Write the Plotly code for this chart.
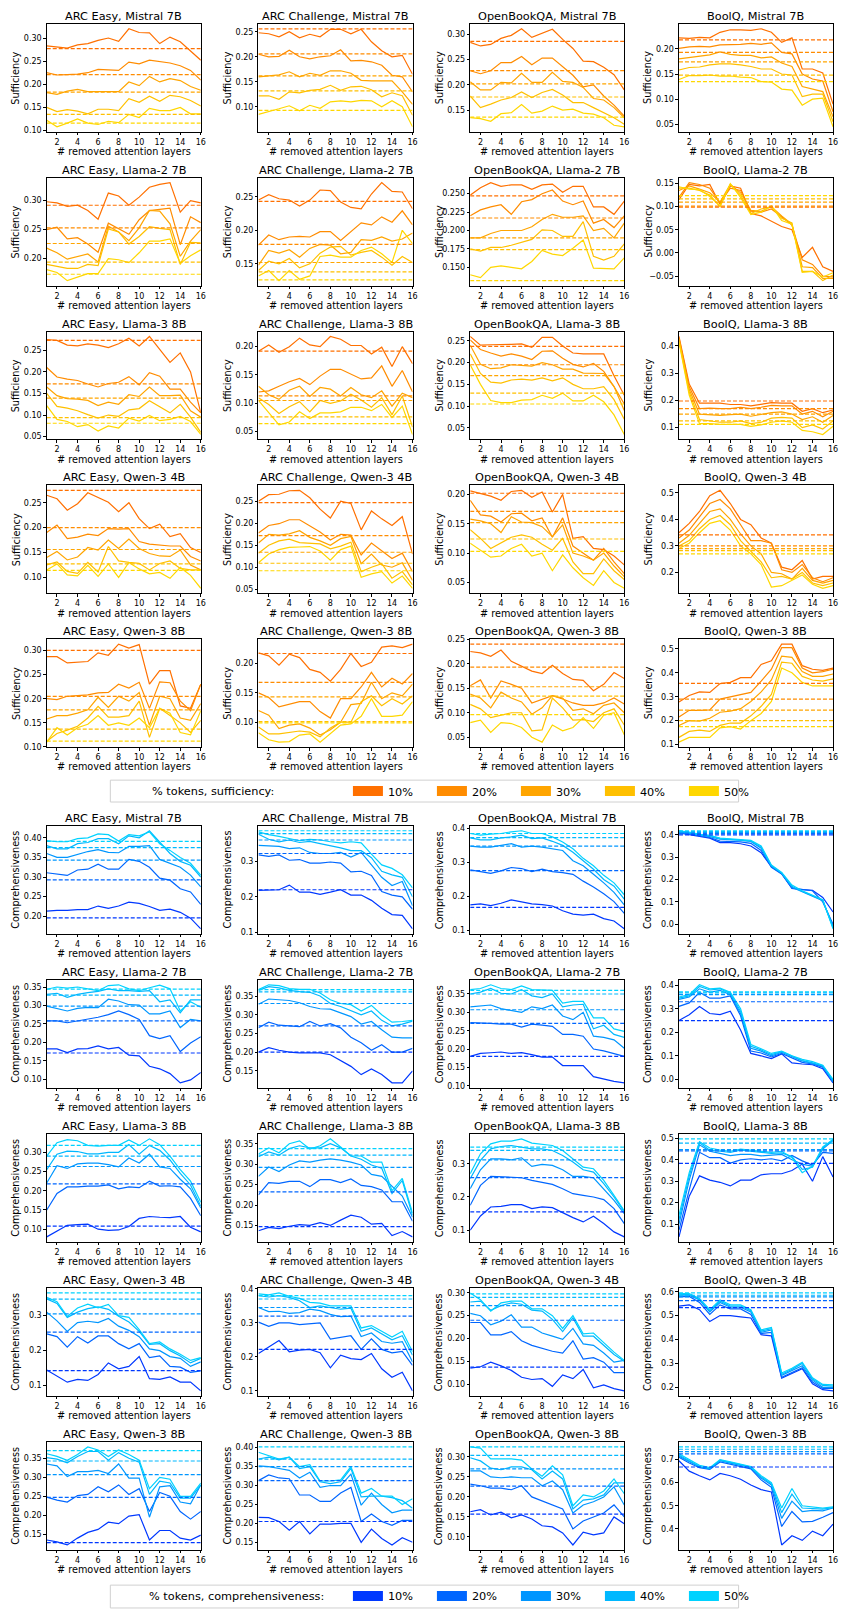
import plotly.graph_objects as go

LAYERS = list(range(1, 17))
PCT_LABELS = ["10%", "20%", "30%", "40%", "50%"]
DATASETS = ["ARC Easy", "ARC Challenge", "OpenBookQA", "BoolQ"]
MODELS = ["Mistral 7B", "Llama-2 7B", "Llama-3 8B", "Qwen-3 4B", "Qwen-3 8B"]
SUFF_COLORS = ["#FF7000", "#FF8C00", "#FFA500", "#FFC000", "#FFD700"]
COMP_COLORS = ["#0038FF", "#0066FF", "#0096FF", "#00B8FF", "#00D2FF"]

# ---------------- Sufficiency (series order: 10%, 20%, 30%, 40%, 50%) ----------------
suff_arce_mistral = [
    [0.283, 0.280, 0.278, 0.285, 0.288, 0.295, 0.300, 0.293, 0.320, 0.312, 0.311, 0.288, 0.302, 0.292, 0.273, 0.252],
    [0.225, 0.220, 0.221, 0.222, 0.225, 0.232, 0.231, 0.230, 0.248, 0.244, 0.252, 0.249, 0.246, 0.240, 0.230, 0.209],
    [0.182, 0.178, 0.185, 0.189, 0.184, 0.184, 0.185, 0.184, 0.205, 0.197, 0.217, 0.205, 0.212, 0.208, 0.195, 0.187],
    [0.150, 0.141, 0.145, 0.142, 0.136, 0.146, 0.146, 0.143, 0.169, 0.161, 0.174, 0.163, 0.176, 0.173, 0.165, 0.153],
    [0.122, 0.108, 0.116, 0.125, 0.116, 0.113, 0.120, 0.117, 0.135, 0.128, 0.148, 0.143, 0.143, 0.150, 0.136, 0.136]]
suff_arce_mistral_base = [0.277, 0.221, 0.183, 0.135, 0.116]

suff_arcc_mistral = [
    [0.248, 0.246, 0.240, 0.250, 0.238, 0.245, 0.240, 0.255, 0.255, 0.246, 0.255, 0.230, 0.212, 0.200, 0.203, 0.165],
    [0.205, 0.200, 0.201, 0.213, 0.200, 0.196, 0.200, 0.202, 0.214, 0.192, 0.193, 0.190, 0.183, 0.163, 0.160, 0.130],
    [0.160, 0.162, 0.164, 0.170, 0.160, 0.167, 0.163, 0.172, 0.172, 0.167, 0.153, 0.152, 0.152, 0.152, 0.130, 0.105],
    [0.122, 0.122, 0.115, 0.130, 0.128, 0.133, 0.135, 0.143, 0.133, 0.140, 0.141, 0.134, 0.120, 0.128, 0.122, 0.083],
    [0.085, 0.090, 0.096, 0.102, 0.092, 0.103, 0.097, 0.110, 0.112, 0.110, 0.113, 0.112, 0.100, 0.112, 0.100, 0.060]]
suff_arcc_mistral_base = [0.256, 0.206, 0.162, 0.132, 0.093]

suff_obqa_mistral = [
    [0.284, 0.277, 0.280, 0.292, 0.298, 0.311, 0.294, 0.302, 0.310, 0.290, 0.272, 0.247, 0.246, 0.235, 0.220, 0.190],
    [0.228, 0.222, 0.228, 0.244, 0.244, 0.256, 0.240, 0.253, 0.253, 0.235, 0.219, 0.196, 0.200, 0.178, 0.160, 0.138],
    [0.206, 0.190, 0.190, 0.205, 0.204, 0.223, 0.205, 0.205, 0.225, 0.207, 0.205, 0.195, 0.173, 0.170, 0.155, 0.135],
    [0.178, 0.155, 0.162, 0.170, 0.175, 0.186, 0.175, 0.185, 0.191, 0.180, 0.165, 0.165, 0.155, 0.145, 0.135, 0.122],
    [0.135, 0.133, 0.128, 0.143, 0.145, 0.161, 0.144, 0.148, 0.158, 0.150, 0.152, 0.144, 0.142, 0.135, 0.120, 0.117]]
suff_obqa_mistral_base = [0.286, 0.228, 0.202, 0.176, 0.136]

suff_boolq_mistral = [
    [0.222, 0.221, 0.223, 0.222, 0.233, 0.238, 0.238, 0.237, 0.240, 0.233, 0.213, 0.222, 0.160, 0.160, 0.152, 0.090],
    [0.201, 0.204, 0.205, 0.204, 0.208, 0.208, 0.209, 0.211, 0.209, 0.212, 0.193, 0.190, 0.150, 0.140, 0.136, 0.075],
    [0.180, 0.183, 0.186, 0.188, 0.194, 0.189, 0.187, 0.187, 0.182, 0.184, 0.172, 0.165, 0.125, 0.120, 0.115, 0.065],
    [0.158, 0.163, 0.164, 0.168, 0.170, 0.170, 0.168, 0.165, 0.160, 0.160, 0.150, 0.148, 0.105, 0.110, 0.110, 0.055],
    [0.139, 0.147, 0.147, 0.148, 0.146, 0.146, 0.144, 0.143, 0.135, 0.134, 0.120, 0.118, 0.088, 0.100, 0.102, 0.045]]
suff_boolq_mistral_base = [0.218, 0.193, 0.174, 0.148, 0.135]

suff_arce_llama2 = [
    [0.298, 0.296, 0.290, 0.292, 0.283, 0.268, 0.313, 0.308, 0.292, 0.306, 0.323, 0.328, 0.331, 0.280, 0.300, 0.296],
    [0.250, 0.254, 0.234, 0.236, 0.225, 0.211, 0.261, 0.252, 0.242, 0.267, 0.283, 0.285, 0.287, 0.224, 0.272, 0.262],
    [0.218, 0.210, 0.199, 0.203, 0.208, 0.194, 0.256, 0.246, 0.231, 0.253, 0.283, 0.282, 0.260, 0.204, 0.230, 0.250],
    [0.190, 0.187, 0.183, 0.183, 0.190, 0.188, 0.251, 0.246, 0.225, 0.238, 0.255, 0.252, 0.250, 0.190, 0.228, 0.227],
    [0.181, 0.176, 0.162, 0.168, 0.174, 0.174, 0.200, 0.198, 0.193, 0.210, 0.230, 0.230, 0.234, 0.192, 0.205, 0.215]]
suff_arce_llama2_base = [0.292, 0.253, 0.226, 0.194, 0.173]

suff_arcc_llama2 = [
    [0.245, 0.253, 0.247, 0.245, 0.236, 0.245, 0.260, 0.259, 0.242, 0.234, 0.232, 0.254, 0.271, 0.258, 0.257, 0.232],
    [0.178, 0.193, 0.186, 0.190, 0.191, 0.190, 0.198, 0.198, 0.185, 0.198, 0.211, 0.208, 0.220, 0.212, 0.229, 0.208],
    [0.148, 0.170, 0.166, 0.171, 0.160, 0.173, 0.179, 0.178, 0.165, 0.167, 0.186, 0.185, 0.190, 0.184, 0.187, 0.196],
    [0.140, 0.154, 0.150, 0.158, 0.144, 0.150, 0.166, 0.175, 0.176, 0.163, 0.167, 0.170, 0.160, 0.148, 0.161, 0.152],
    [0.132, 0.140, 0.125, 0.140, 0.127, 0.132, 0.161, 0.163, 0.160, 0.160, 0.170, 0.175, 0.165, 0.152, 0.200, 0.180]]
suff_arcc_llama2_base = [0.243, 0.179, 0.152, 0.138, 0.126]

suff_obqa_llama2 = [
    [0.248, 0.258, 0.265, 0.260, 0.262, 0.262, 0.256, 0.262, 0.263, 0.252, 0.260, 0.260, 0.232, 0.232, 0.222, 0.240],
    [0.220, 0.228, 0.232, 0.235, 0.222, 0.239, 0.242, 0.250, 0.255, 0.240, 0.235, 0.240, 0.210, 0.215, 0.204, 0.220],
    [0.190, 0.190, 0.196, 0.200, 0.200, 0.200, 0.205, 0.215, 0.222, 0.218, 0.218, 0.220, 0.200, 0.203, 0.190, 0.210],
    [0.175, 0.172, 0.177, 0.177, 0.180, 0.184, 0.188, 0.201, 0.200, 0.192, 0.192, 0.212, 0.165, 0.160, 0.165, 0.182],
    [0.140, 0.136, 0.150, 0.152, 0.150, 0.148, 0.158, 0.173, 0.168, 0.166, 0.176, 0.187, 0.149, 0.148, 0.148, 0.163]]
suff_obqa_llama2_base = [0.247, 0.217, 0.190, 0.174, 0.132]

suff_boolq_llama2 = [
    [0.115, 0.148, 0.145, 0.148, 0.105, 0.145, 0.140, 0.085, 0.080, 0.068, 0.057, 0.050, -0.010, 0.012, -0.030, -0.040],
    [0.120, 0.152, 0.148, 0.140, 0.108, 0.140, 0.135, 0.090, 0.088, 0.095, 0.078, 0.060, -0.015, -0.025, -0.050, -0.052],
    [0.135, 0.145, 0.138, 0.130, 0.110, 0.148, 0.130, 0.092, 0.090, 0.100, 0.080, 0.062, -0.030, -0.032, -0.055, -0.055],
    [0.140, 0.140, 0.135, 0.125, 0.100, 0.148, 0.125, 0.085, 0.095, 0.100, 0.075, 0.065, -0.040, -0.040, -0.060, -0.048],
    [0.143, 0.138, 0.137, 0.122, 0.102, 0.150, 0.120, 0.083, 0.088, 0.102, 0.070, 0.062, -0.042, -0.040, -0.052, -0.043]]
suff_boolq_llama2_base = [0.099, 0.101, 0.110, 0.117, 0.124]

suff_arce_llama3 = [
    [0.275, 0.273, 0.262, 0.260, 0.265, 0.262, 0.256, 0.265, 0.278, 0.260, 0.282, 0.253, 0.222, 0.244, 0.200, 0.105],
    [0.210, 0.188, 0.183, 0.180, 0.172, 0.165, 0.173, 0.176, 0.189, 0.170, 0.198, 0.190, 0.160, 0.160, 0.130, 0.105],
    [0.165, 0.145, 0.138, 0.137, 0.134, 0.122, 0.130, 0.125, 0.147, 0.143, 0.165, 0.145, 0.145, 0.146, 0.110, 0.095],
    [0.150, 0.120, 0.116, 0.110, 0.101, 0.093, 0.100, 0.097, 0.112, 0.115, 0.133, 0.120, 0.105, 0.125, 0.095, 0.060],
    [0.122, 0.090, 0.085, 0.073, 0.078, 0.063, 0.075, 0.070, 0.093, 0.086, 0.099, 0.087, 0.090, 0.097, 0.085, 0.055]]
suff_arce_llama3_base = [0.273, 0.172, 0.139, 0.094, 0.081]

suff_arcc_llama3 = [
    [0.192, 0.203, 0.190, 0.200, 0.215, 0.203, 0.200, 0.218, 0.213, 0.202, 0.202, 0.187, 0.199, 0.165, 0.200, 0.170],
    [0.120, 0.122, 0.130, 0.138, 0.144, 0.133, 0.148, 0.160, 0.160, 0.152, 0.143, 0.145, 0.166, 0.130, 0.158, 0.120],
    [0.130, 0.115, 0.107, 0.123, 0.130, 0.112, 0.128, 0.125, 0.113, 0.128, 0.115, 0.110, 0.122, 0.095, 0.118, 0.110],
    [0.110, 0.098, 0.082, 0.094, 0.103, 0.085, 0.105, 0.100, 0.104, 0.116, 0.106, 0.093, 0.110, 0.080, 0.113, 0.058],
    [0.105, 0.083, 0.062, 0.067, 0.085, 0.073, 0.083, 0.083, 0.085, 0.093, 0.093, 0.087, 0.098, 0.075, 0.095, 0.045]]
suff_arcc_llama3_base = [0.192, 0.113, 0.105, 0.076, 0.064]

suff_obqa_llama3 = [
    [0.260, 0.240, 0.241, 0.241, 0.242, 0.243, 0.235, 0.258, 0.258, 0.238, 0.222, 0.220, 0.220, 0.220, 0.170, 0.125],
    [0.252, 0.230, 0.222, 0.215, 0.220, 0.215, 0.207, 0.226, 0.227, 0.210, 0.196, 0.190, 0.198, 0.180, 0.145, 0.105],
    [0.240, 0.196, 0.186, 0.188, 0.195, 0.193, 0.192, 0.200, 0.195, 0.185, 0.185, 0.176, 0.175, 0.175, 0.145, 0.090],
    [0.220, 0.175, 0.155, 0.153, 0.160, 0.162, 0.160, 0.165, 0.158, 0.165, 0.150, 0.140, 0.140, 0.145, 0.115, 0.070],
    [0.195, 0.150, 0.113, 0.108, 0.108, 0.114, 0.115, 0.125, 0.118, 0.130, 0.112, 0.112, 0.125, 0.110, 0.080, 0.035]]
suff_obqa_llama3_base = [0.237, 0.195, 0.170, 0.130, 0.105]

suff_boolq_llama3 = [
    [0.435, 0.260, 0.190, 0.190, 0.190, 0.185, 0.185, 0.180, 0.185, 0.192, 0.190, 0.190, 0.160, 0.170, 0.155, 0.165],
    [0.430, 0.250, 0.170, 0.172, 0.170, 0.170, 0.175, 0.170, 0.175, 0.182, 0.180, 0.180, 0.150, 0.160, 0.140, 0.160],
    [0.425, 0.240, 0.150, 0.148, 0.145, 0.148, 0.150, 0.142, 0.148, 0.155, 0.158, 0.150, 0.130, 0.140, 0.120, 0.145],
    [0.420, 0.230, 0.130, 0.125, 0.120, 0.120, 0.125, 0.115, 0.120, 0.135, 0.138, 0.135, 0.100, 0.110, 0.095, 0.125],
    [0.415, 0.220, 0.115, 0.115, 0.112, 0.112, 0.112, 0.105, 0.110, 0.120, 0.125, 0.120, 0.090, 0.085, 0.075, 0.105]]
suff_boolq_llama3_base = [0.198, 0.170, 0.150, 0.125, 0.112]

suff_arce_qwen4b = [
    [0.265, 0.258, 0.235, 0.248, 0.270, 0.260, 0.251, 0.232, 0.250, 0.218, 0.198, 0.207, 0.182, 0.188, 0.160, 0.150],
    [0.190, 0.205, 0.178, 0.181, 0.187, 0.184, 0.198, 0.197, 0.198, 0.172, 0.167, 0.165, 0.163, 0.163, 0.142, 0.133],
    [0.140, 0.152, 0.135, 0.141, 0.160, 0.155, 0.175, 0.158, 0.177, 0.158, 0.148, 0.143, 0.142, 0.155, 0.125, 0.115],
    [0.125, 0.131, 0.112, 0.108, 0.130, 0.111, 0.162, 0.133, 0.130, 0.128, 0.115, 0.128, 0.133, 0.118, 0.115, 0.115],
    [0.115, 0.127, 0.105, 0.103, 0.124, 0.102, 0.127, 0.100, 0.130, 0.117, 0.107, 0.110, 0.098, 0.120, 0.104, 0.078]]
suff_arce_qwen4b_base = [0.275, 0.200, 0.156, 0.127, 0.114]

suff_arcc_qwen4b = [
    [0.250, 0.265, 0.266, 0.274, 0.275, 0.258, 0.232, 0.212, 0.250, 0.245, 0.185, 0.228, 0.210, 0.195, 0.215, 0.130],
    [0.178, 0.195, 0.199, 0.208, 0.208, 0.193, 0.180, 0.162, 0.175, 0.173, 0.128, 0.155, 0.138, 0.120, 0.132, 0.090],
    [0.155, 0.175, 0.173, 0.176, 0.183, 0.168, 0.160, 0.150, 0.165, 0.170, 0.108, 0.130, 0.105, 0.100, 0.110, 0.070],
    [0.132, 0.150, 0.160, 0.164, 0.156, 0.155, 0.153, 0.142, 0.148, 0.157, 0.090, 0.100, 0.108, 0.075, 0.090, 0.060],
    [0.110, 0.130, 0.140, 0.145, 0.146, 0.147, 0.137, 0.116, 0.140, 0.148, 0.077, 0.085, 0.090, 0.064, 0.080, 0.052]]
suff_arcc_qwen4b_base = [0.247, 0.172, 0.134, 0.109, 0.092]

suff_obqa_qwen4b = [
    [0.206, 0.202, 0.197, 0.190, 0.205, 0.207, 0.195, 0.204, 0.170, 0.200, 0.125, 0.128, 0.108, 0.106, 0.095, 0.080],
    [0.190, 0.165, 0.163, 0.153, 0.167, 0.168, 0.155, 0.160, 0.127, 0.160, 0.112, 0.100, 0.088, 0.108, 0.085, 0.065],
    [0.158, 0.155, 0.150, 0.135, 0.162, 0.153, 0.152, 0.145, 0.128, 0.148, 0.100, 0.095, 0.088, 0.100, 0.078, 0.060],
    [0.140, 0.125, 0.108, 0.118, 0.127, 0.131, 0.127, 0.115, 0.105, 0.125, 0.085, 0.065, 0.065, 0.090, 0.070, 0.055],
    [0.117, 0.105, 0.093, 0.095, 0.108, 0.115, 0.095, 0.100, 0.070, 0.097, 0.075, 0.058, 0.045, 0.070, 0.050, 0.040]]
suff_obqa_qwen4b_base = [0.202, 0.171, 0.152, 0.124, 0.103]

suff_boolq_qwen4b = [
    [0.350, 0.385, 0.430, 0.490, 0.510, 0.460, 0.400, 0.380, 0.330, 0.310, 0.220, 0.210, 0.245, 0.175, 0.185, 0.185],
    [0.330, 0.360, 0.410, 0.460, 0.475, 0.440, 0.380, 0.320, 0.320, 0.310, 0.210, 0.200, 0.230, 0.180, 0.165, 0.180],
    [0.310, 0.340, 0.385, 0.430, 0.440, 0.400, 0.345, 0.300, 0.270, 0.200, 0.195, 0.175, 0.215, 0.170, 0.160, 0.170],
    [0.300, 0.320, 0.365, 0.400, 0.415, 0.380, 0.320, 0.280, 0.240, 0.180, 0.185, 0.175, 0.200, 0.160, 0.150, 0.160],
    [0.290, 0.310, 0.350, 0.385, 0.395, 0.360, 0.300, 0.270, 0.230, 0.145, 0.150, 0.170, 0.190, 0.155, 0.140, 0.150]]
suff_boolq_qwen4b_base = [0.342, 0.300, 0.290, 0.282, 0.270]

suff_arce_qwen8b = [
    [0.287, 0.287, 0.274, 0.275, 0.277, 0.295, 0.290, 0.313, 0.305, 0.312, 0.230, 0.258, 0.258, 0.185, 0.180, 0.230],
    [0.200, 0.198, 0.205, 0.207, 0.208, 0.212, 0.213, 0.230, 0.222, 0.234, 0.180, 0.235, 0.233, 0.195, 0.175, 0.230],
    [0.158, 0.165, 0.165, 0.170, 0.177, 0.203, 0.182, 0.205, 0.195, 0.213, 0.145, 0.205, 0.200, 0.160, 0.155, 0.190],
    [0.112, 0.128, 0.135, 0.143, 0.160, 0.184, 0.162, 0.162, 0.165, 0.195, 0.120, 0.180, 0.165, 0.150, 0.130, 0.155],
    [0.110, 0.140, 0.125, 0.140, 0.147, 0.165, 0.145, 0.150, 0.145, 0.160, 0.140, 0.180, 0.170, 0.130, 0.125, 0.175]]
suff_arce_qwen8b_base = [0.300, 0.205, 0.177, 0.137, 0.112]

suff_arcc_qwen8b = [
    [0.218, 0.213, 0.197, 0.216, 0.210, 0.190, 0.185, 0.170, 0.190, 0.217, 0.195, 0.202, 0.228, 0.230, 0.227, 0.233],
    [0.150, 0.142, 0.126, 0.131, 0.135, 0.135, 0.118, 0.107, 0.140, 0.140, 0.160, 0.185, 0.160, 0.175, 0.165, 0.183],
    [0.120, 0.112, 0.089, 0.095, 0.097, 0.090, 0.078, 0.087, 0.100, 0.130, 0.132, 0.168, 0.140, 0.150, 0.145, 0.165],
    [0.092, 0.080, 0.080, 0.082, 0.085, 0.083, 0.075, 0.090, 0.100, 0.100, 0.135, 0.145, 0.128, 0.140, 0.131, 0.145],
    [0.082, 0.070, 0.066, 0.067, 0.078, 0.080, 0.066, 0.080, 0.095, 0.097, 0.110, 0.140, 0.110, 0.110, 0.112, 0.135]]
suff_arcc_qwen8b_base = [0.217, 0.168, 0.143, 0.101, 0.099]

suff_obqa_qwen8b = [
    [0.225, 0.222, 0.215, 0.228, 0.205, 0.195, 0.185, 0.180, 0.197, 0.180, 0.168, 0.166, 0.145, 0.158, 0.182, 0.170],
    [0.155, 0.167, 0.130, 0.165, 0.158, 0.150, 0.120, 0.128, 0.135, 0.128, 0.120, 0.115, 0.115, 0.120, 0.130, 0.118],
    [0.138, 0.130, 0.110, 0.142, 0.130, 0.122, 0.097, 0.110, 0.135, 0.130, 0.105, 0.108, 0.098, 0.115, 0.120, 0.100],
    [0.117, 0.108, 0.090, 0.095, 0.100, 0.100, 0.063, 0.065, 0.130, 0.110, 0.085, 0.086, 0.082, 0.100, 0.108, 0.075],
    [0.080, 0.085, 0.060, 0.080, 0.078, 0.070, 0.050, 0.040, 0.075, 0.063, 0.070, 0.090, 0.068, 0.095, 0.100, 0.055]]
suff_obqa_qwen8b_base = [0.240, 0.193, 0.153, 0.134, 0.096]

suff_boolq_qwen8b = [
    [0.278, 0.305, 0.320, 0.318, 0.355, 0.360, 0.380, 0.380, 0.435, 0.450, 0.520, 0.520, 0.430, 0.415, 0.410, 0.420],
    [0.215, 0.243, 0.243, 0.245, 0.290, 0.300, 0.310, 0.318, 0.365, 0.415, 0.505, 0.505, 0.420, 0.400, 0.405, 0.415],
    [0.180, 0.200, 0.198, 0.210, 0.235, 0.240, 0.250, 0.280, 0.320, 0.370, 0.470, 0.465, 0.405, 0.385, 0.385, 0.395],
    [0.130, 0.155, 0.160, 0.155, 0.180, 0.190, 0.190, 0.220, 0.260, 0.310, 0.445, 0.440, 0.385, 0.370, 0.365, 0.375],
    [0.110, 0.130, 0.130, 0.130, 0.170, 0.175, 0.165, 0.200, 0.230, 0.280, 0.420, 0.400, 0.360, 0.345, 0.345, 0.345]]
suff_boolq_qwen8b_base = [0.356, 0.290, 0.244, 0.200, 0.175]

# ---------------- Comprehensiveness (series order: 10%, 20%, 30%, 40%, 50%) ----------------
comp_arce_mistral = [
    [0.213, 0.215, 0.215, 0.217, 0.217, 0.226, 0.220, 0.226, 0.236, 0.233, 0.225, 0.215, 0.218, 0.210, 0.195, 0.168],
    [0.311, 0.307, 0.304, 0.318, 0.320, 0.333, 0.320, 0.320, 0.345, 0.340, 0.325, 0.297, 0.292, 0.270, 0.262, 0.230],
    [0.360, 0.350, 0.350, 0.358, 0.365, 0.370, 0.363, 0.362, 0.378, 0.378, 0.380, 0.345, 0.335, 0.325, 0.305, 0.275],
    [0.380, 0.372, 0.372, 0.385, 0.388, 0.398, 0.398, 0.385, 0.405, 0.400, 0.418, 0.390, 0.360, 0.340, 0.330, 0.300],
    [0.393, 0.390, 0.390, 0.398, 0.400, 0.410, 0.408, 0.392, 0.408, 0.405, 0.415, 0.385, 0.368, 0.350, 0.335, 0.305]]
comp_arce_mistral_base = [0.196, 0.293, 0.343, 0.375, 0.391]

comp_arcc_mistral = [
    [0.218, 0.220, 0.220, 0.233, 0.213, 0.213, 0.207, 0.213, 0.220, 0.205, 0.205, 0.190, 0.168, 0.150, 0.148, 0.110],
    [0.318, 0.314, 0.318, 0.303, 0.305, 0.295, 0.295, 0.298, 0.295, 0.270, 0.272, 0.260, 0.215, 0.205, 0.200, 0.165],
    [0.345, 0.343, 0.342, 0.336, 0.338, 0.325, 0.322, 0.322, 0.325, 0.312, 0.325, 0.290, 0.255, 0.232, 0.243, 0.175],
    [0.376, 0.362, 0.355, 0.360, 0.353, 0.356, 0.350, 0.345, 0.338, 0.330, 0.330, 0.310, 0.272, 0.262, 0.255, 0.200],
    [0.383, 0.375, 0.370, 0.365, 0.358, 0.362, 0.360, 0.355, 0.352, 0.355, 0.352, 0.320, 0.290, 0.280, 0.262, 0.225]]
comp_arcc_mistral_base = [0.220, 0.322, 0.360, 0.378, 0.386]

comp_obqa_mistral = [
    [0.175, 0.178, 0.173, 0.180, 0.190, 0.183, 0.178, 0.176, 0.172, 0.158, 0.148, 0.145, 0.148, 0.135, 0.128, 0.105],
    [0.278, 0.272, 0.268, 0.275, 0.285, 0.282, 0.273, 0.280, 0.273, 0.270, 0.265, 0.245, 0.228, 0.208, 0.185, 0.150],
    [0.348, 0.345, 0.345, 0.350, 0.355, 0.345, 0.348, 0.345, 0.340, 0.335, 0.305, 0.290, 0.265, 0.240, 0.212, 0.175],
    [0.372, 0.366, 0.366, 0.372, 0.375, 0.380, 0.370, 0.372, 0.362, 0.350, 0.330, 0.305, 0.280, 0.250, 0.230, 0.192],
    [0.385, 0.380, 0.383, 0.385, 0.390, 0.393, 0.385, 0.385, 0.375, 0.360, 0.340, 0.312, 0.290, 0.262, 0.240, 0.205]]
comp_obqa_mistral_base = [0.168, 0.276, 0.348, 0.373, 0.385]

comp_boolq_mistral = [
    [0.408, 0.400, 0.390, 0.385, 0.365, 0.365, 0.360, 0.350, 0.320, 0.258, 0.226, 0.160, 0.155, 0.152, 0.120, 0.055],
    [0.412, 0.404, 0.394, 0.388, 0.372, 0.370, 0.368, 0.362, 0.330, 0.255, 0.225, 0.162, 0.155, 0.150, 0.100, 0.000],
    [0.414, 0.407, 0.398, 0.392, 0.380, 0.378, 0.376, 0.370, 0.340, 0.260, 0.228, 0.165, 0.145, 0.125, 0.105, -0.010],
    [0.416, 0.410, 0.400, 0.396, 0.383, 0.380, 0.378, 0.372, 0.345, 0.262, 0.230, 0.170, 0.148, 0.128, 0.108, -0.015],
    [0.418, 0.412, 0.402, 0.398, 0.385, 0.382, 0.380, 0.375, 0.350, 0.265, 0.232, 0.175, 0.150, 0.130, 0.110, -0.020]]
comp_boolq_mistral_base = [0.400, 0.405, 0.410, 0.414, 0.418]

comp_arce_llama2 = [
    [0.182, 0.182, 0.172, 0.182, 0.183, 0.190, 0.182, 0.186, 0.165, 0.163, 0.135, 0.128, 0.115, 0.090, 0.098, 0.118],
    [0.258, 0.258, 0.253, 0.258, 0.262, 0.268, 0.275, 0.285, 0.275, 0.262, 0.218, 0.210, 0.218, 0.175, 0.198, 0.215],
    [0.298, 0.292, 0.285, 0.292, 0.295, 0.294, 0.317, 0.312, 0.302, 0.301, 0.277, 0.277, 0.285, 0.240, 0.262, 0.258],
    [0.330, 0.333, 0.322, 0.330, 0.335, 0.338, 0.345, 0.340, 0.340, 0.338, 0.340, 0.310, 0.315, 0.280, 0.315, 0.315],
    [0.344, 0.350, 0.347, 0.350, 0.345, 0.340, 0.354, 0.356, 0.345, 0.340, 0.348, 0.355, 0.345, 0.285, 0.310, 0.295]]
comp_arce_llama2_base = [0.171, 0.258, 0.298, 0.328, 0.344]

comp_arcc_llama2 = [
    [0.200, 0.212, 0.205, 0.200, 0.198, 0.198, 0.198, 0.193, 0.178, 0.162, 0.140, 0.155, 0.140, 0.118, 0.118, 0.150],
    [0.265, 0.280, 0.272, 0.270, 0.268, 0.282, 0.270, 0.276, 0.265, 0.240, 0.225, 0.205, 0.220, 0.200, 0.200, 0.210],
    [0.328, 0.342, 0.340, 0.338, 0.332, 0.322, 0.316, 0.315, 0.305, 0.295, 0.275, 0.282, 0.260, 0.240, 0.238, 0.238],
    [0.365, 0.375, 0.372, 0.365, 0.362, 0.360, 0.350, 0.330, 0.322, 0.312, 0.300, 0.310, 0.285, 0.270, 0.275, 0.283],
    [0.367, 0.380, 0.378, 0.370, 0.368, 0.368, 0.358, 0.340, 0.330, 0.327, 0.310, 0.325, 0.300, 0.280, 0.282, 0.285]]
comp_arcc_llama2_base = [0.200, 0.270, 0.330, 0.361, 0.367]

comp_obqa_llama2 = [
    [0.180, 0.188, 0.190, 0.192, 0.188, 0.190, 0.185, 0.178, 0.178, 0.155, 0.155, 0.155, 0.125, 0.118, 0.112, 0.108],
    [0.272, 0.272, 0.270, 0.268, 0.268, 0.260, 0.268, 0.265, 0.262, 0.240, 0.240, 0.235, 0.200, 0.195, 0.188, 0.180],
    [0.315, 0.318, 0.320, 0.310, 0.305, 0.300, 0.315, 0.310, 0.320, 0.290, 0.280, 0.300, 0.235, 0.232, 0.225, 0.202],
    [0.350, 0.355, 0.365, 0.352, 0.350, 0.362, 0.345, 0.340, 0.350, 0.315, 0.320, 0.322, 0.255, 0.265, 0.240, 0.232],
    [0.362, 0.365, 0.375, 0.365, 0.362, 0.372, 0.362, 0.360, 0.360, 0.325, 0.330, 0.330, 0.285, 0.285, 0.255, 0.248]]
comp_obqa_llama2_base = [0.180, 0.270, 0.307, 0.350, 0.360]

comp_boolq_llama2 = [
    [0.250, 0.275, 0.310, 0.280, 0.275, 0.290, 0.210, 0.110, 0.100, 0.088, 0.108, 0.070, 0.065, 0.062, 0.045, -0.015],
    [0.310, 0.325, 0.370, 0.345, 0.345, 0.355, 0.270, 0.120, 0.112, 0.095, 0.110, 0.090, 0.072, 0.065, 0.052, -0.010],
    [0.340, 0.350, 0.385, 0.370, 0.378, 0.360, 0.280, 0.132, 0.120, 0.100, 0.115, 0.095, 0.078, 0.068, 0.055, -0.010],
    [0.345, 0.355, 0.395, 0.380, 0.385, 0.365, 0.290, 0.140, 0.125, 0.105, 0.118, 0.098, 0.080, 0.070, 0.058, -0.005],
    [0.350, 0.360, 0.402, 0.385, 0.388, 0.370, 0.300, 0.148, 0.130, 0.110, 0.120, 0.100, 0.085, 0.075, 0.060, 0.000]]
comp_boolq_llama2_base = [0.250, 0.330, 0.360, 0.368, 0.372]

comp_arce_llama3 = [
    [0.080, 0.095, 0.110, 0.112, 0.113, 0.100, 0.097, 0.098, 0.107, 0.128, 0.133, 0.131, 0.130, 0.133, 0.105, 0.093],
    [0.150, 0.193, 0.210, 0.210, 0.212, 0.212, 0.215, 0.205, 0.210, 0.208, 0.225, 0.212, 0.213, 0.210, 0.180, 0.135],
    [0.220, 0.265, 0.258, 0.270, 0.272, 0.272, 0.268, 0.262, 0.285, 0.272, 0.295, 0.262, 0.258, 0.230, 0.205, 0.155],
    [0.255, 0.295, 0.303, 0.302, 0.296, 0.296, 0.300, 0.300, 0.320, 0.295, 0.318, 0.305, 0.280, 0.245, 0.215, 0.160],
    [0.290, 0.325, 0.333, 0.330, 0.318, 0.316, 0.318, 0.318, 0.332, 0.318, 0.335, 0.320, 0.290, 0.255, 0.225, 0.170]]
comp_arce_llama3_base = [0.108, 0.218, 0.263, 0.290, 0.318]

comp_arcc_llama3 = [
    [0.137, 0.145, 0.142, 0.148, 0.152, 0.150, 0.157, 0.150, 0.163, 0.175, 0.170, 0.153, 0.155, 0.125, 0.135, 0.122],
    [0.225, 0.255, 0.253, 0.258, 0.258, 0.245, 0.262, 0.262, 0.255, 0.264, 0.248, 0.245, 0.237, 0.208, 0.208, 0.160],
    [0.270, 0.293, 0.282, 0.298, 0.308, 0.305, 0.310, 0.313, 0.310, 0.305, 0.298, 0.275, 0.270, 0.245, 0.222, 0.170],
    [0.318, 0.330, 0.322, 0.338, 0.345, 0.340, 0.340, 0.350, 0.340, 0.320, 0.312, 0.298, 0.290, 0.228, 0.260, 0.175],
    [0.325, 0.340, 0.328, 0.350, 0.357, 0.337, 0.345, 0.362, 0.342, 0.320, 0.320, 0.305, 0.305, 0.235, 0.265, 0.180]]
comp_arcc_llama3_base = [0.147, 0.232, 0.292, 0.322, 0.338]

comp_obqa_llama3 = [
    [0.100, 0.143, 0.170, 0.172, 0.177, 0.177, 0.165, 0.170, 0.168, 0.152, 0.138, 0.125, 0.142, 0.120, 0.095, 0.080],
    [0.175, 0.235, 0.262, 0.260, 0.258, 0.258, 0.250, 0.245, 0.238, 0.225, 0.210, 0.205, 0.200, 0.192, 0.165, 0.120],
    [0.225, 0.282, 0.315, 0.315, 0.312, 0.318, 0.292, 0.298, 0.295, 0.282, 0.262, 0.262, 0.258, 0.225, 0.190, 0.150],
    [0.255, 0.310, 0.345, 0.352, 0.355, 0.350, 0.345, 0.345, 0.340, 0.325, 0.305, 0.282, 0.275, 0.240, 0.200, 0.155],
    [0.270, 0.330, 0.360, 0.368, 0.368, 0.375, 0.362, 0.358, 0.355, 0.340, 0.315, 0.290, 0.285, 0.250, 0.205, 0.158]]
comp_obqa_llama3_base = [0.155, 0.258, 0.312, 0.340, 0.350]

comp_boolq_llama3 = [
    [0.040, 0.230, 0.325, 0.305, 0.295, 0.278, 0.305, 0.305, 0.330, 0.335, 0.335, 0.350, 0.380, 0.300, 0.415, 0.320],
    [0.070, 0.260, 0.435, 0.410, 0.410, 0.385, 0.400, 0.405, 0.400, 0.405, 0.395, 0.420, 0.395, 0.375, 0.435, 0.430],
    [0.100, 0.305, 0.470, 0.440, 0.430, 0.420, 0.425, 0.425, 0.418, 0.420, 0.425, 0.400, 0.380, 0.370, 0.450, 0.490],
    [0.120, 0.325, 0.480, 0.445, 0.440, 0.435, 0.445, 0.440, 0.435, 0.430, 0.432, 0.415, 0.355, 0.365, 0.455, 0.495],
    [0.140, 0.340, 0.485, 0.455, 0.445, 0.440, 0.450, 0.445, 0.440, 0.435, 0.440, 0.410, 0.340, 0.370, 0.460, 0.495]]
comp_boolq_llama3_base = [0.383, 0.442, 0.448, 0.478, 0.498]

comp_arce_qwen4b = [
    [0.145, 0.128, 0.110, 0.118, 0.115, 0.132, 0.165, 0.148, 0.155, 0.183, 0.120, 0.118, 0.125, 0.110, 0.110, 0.085],
    [0.248, 0.240, 0.210, 0.240, 0.222, 0.242, 0.242, 0.220, 0.205, 0.220, 0.180, 0.185, 0.155, 0.153, 0.138, 0.142],
    [0.310, 0.285, 0.255, 0.280, 0.284, 0.280, 0.292, 0.270, 0.258, 0.240, 0.205, 0.200, 0.183, 0.178, 0.155, 0.168],
    [0.348, 0.335, 0.295, 0.310, 0.320, 0.325, 0.318, 0.298, 0.282, 0.255, 0.218, 0.220, 0.200, 0.185, 0.165, 0.178],
    [0.352, 0.340, 0.298, 0.322, 0.333, 0.322, 0.332, 0.300, 0.295, 0.260, 0.220, 0.225, 0.205, 0.190, 0.172, 0.180]]
comp_arce_qwen4b_base = [0.143, 0.253, 0.305, 0.347, 0.365]

comp_arcc_qwen4b = [
    [0.210, 0.230, 0.248, 0.215, 0.220, 0.222, 0.212, 0.168, 0.205, 0.195, 0.192, 0.210, 0.165, 0.140, 0.155, 0.100],
    [0.302, 0.290, 0.300, 0.300, 0.295, 0.298, 0.300, 0.252, 0.258, 0.262, 0.222, 0.253, 0.222, 0.212, 0.216, 0.175],
    [0.345, 0.333, 0.334, 0.328, 0.330, 0.340, 0.336, 0.325, 0.318, 0.320, 0.260, 0.270, 0.245, 0.240, 0.245, 0.185],
    [0.380, 0.376, 0.380, 0.375, 0.365, 0.345, 0.350, 0.345, 0.340, 0.343, 0.275, 0.285, 0.268, 0.250, 0.262, 0.205],
    [0.385, 0.382, 0.388, 0.378, 0.372, 0.360, 0.358, 0.350, 0.350, 0.350, 0.285, 0.292, 0.275, 0.258, 0.275, 0.215]]
comp_arcc_qwen4b_base = [0.222, 0.320, 0.345, 0.370, 0.380]

comp_obqa_qwen4b = [
    [0.135, 0.138, 0.148, 0.140, 0.130, 0.115, 0.110, 0.112, 0.095, 0.120, 0.112, 0.132, 0.092, 0.098, 0.090, 0.085],
    [0.235, 0.235, 0.208, 0.208, 0.215, 0.195, 0.185, 0.178, 0.172, 0.168, 0.195, 0.155, 0.158, 0.148, 0.125, 0.125],
    [0.255, 0.250, 0.230, 0.238, 0.252, 0.225, 0.225, 0.212, 0.205, 0.198, 0.222, 0.188, 0.185, 0.168, 0.148, 0.152],
    [0.280, 0.282, 0.262, 0.272, 0.278, 0.275, 0.262, 0.260, 0.242, 0.215, 0.245, 0.205, 0.205, 0.185, 0.165, 0.150],
    [0.300, 0.285, 0.260, 0.278, 0.282, 0.282, 0.265, 0.265, 0.250, 0.222, 0.250, 0.210, 0.212, 0.190, 0.170, 0.152]]
comp_obqa_qwen4b_base = [0.137, 0.240, 0.272, 0.290, 0.298]

comp_boolq_qwen4b = [
    [0.540, 0.545, 0.525, 0.475, 0.500, 0.500, 0.495, 0.490, 0.420, 0.415, 0.238, 0.258, 0.278, 0.215, 0.190, 0.185],
    [0.578, 0.580, 0.555, 0.505, 0.545, 0.528, 0.528, 0.505, 0.425, 0.430, 0.242, 0.262, 0.282, 0.222, 0.195, 0.195],
    [0.585, 0.585, 0.565, 0.515, 0.555, 0.535, 0.535, 0.515, 0.430, 0.440, 0.250, 0.270, 0.290, 0.230, 0.200, 0.200],
    [0.590, 0.588, 0.568, 0.520, 0.560, 0.540, 0.540, 0.520, 0.435, 0.445, 0.255, 0.275, 0.300, 0.235, 0.208, 0.205],
    [0.592, 0.592, 0.572, 0.525, 0.565, 0.545, 0.545, 0.525, 0.440, 0.450, 0.260, 0.280, 0.305, 0.240, 0.212, 0.210]]
comp_boolq_qwen4b_base = [0.533, 0.563, 0.578, 0.585, 0.595]

comp_arce_qwen8b = [
    [0.135, 0.130, 0.122, 0.140, 0.155, 0.163, 0.182, 0.178, 0.198, 0.202, 0.135, 0.160, 0.160, 0.140, 0.135, 0.148],
    [0.248, 0.240, 0.235, 0.252, 0.255, 0.275, 0.262, 0.280, 0.255, 0.270, 0.210, 0.260, 0.250, 0.210, 0.190, 0.210],
    [0.335, 0.330, 0.302, 0.315, 0.315, 0.318, 0.310, 0.335, 0.298, 0.298, 0.195, 0.275, 0.278, 0.235, 0.230, 0.280],
    [0.352, 0.348, 0.338, 0.355, 0.368, 0.368, 0.345, 0.365, 0.350, 0.340, 0.255, 0.290, 0.285, 0.245, 0.245, 0.280],
    [0.362, 0.355, 0.345, 0.360, 0.380, 0.372, 0.355, 0.372, 0.360, 0.345, 0.270, 0.300, 0.295, 0.250, 0.250, 0.285]]
comp_arce_qwen8b_base = [0.128, 0.247, 0.307, 0.343, 0.370]

comp_arcc_qwen8b = [
    [0.216, 0.215, 0.205, 0.182, 0.205, 0.172, 0.198, 0.198, 0.200, 0.200, 0.150, 0.185, 0.160, 0.143, 0.162, 0.150],
    [0.313, 0.328, 0.320, 0.318, 0.275, 0.275, 0.258, 0.258, 0.280, 0.295, 0.205, 0.225, 0.205, 0.195, 0.208, 0.208],
    [0.352, 0.350, 0.345, 0.340, 0.320, 0.335, 0.295, 0.300, 0.300, 0.330, 0.248, 0.280, 0.250, 0.228, 0.235, 0.235],
    [0.370, 0.375, 0.368, 0.375, 0.345, 0.350, 0.310, 0.305, 0.310, 0.345, 0.270, 0.272, 0.272, 0.268, 0.260, 0.240],
    [0.388, 0.380, 0.370, 0.375, 0.350, 0.355, 0.312, 0.312, 0.315, 0.350, 0.280, 0.292, 0.272, 0.272, 0.250, 0.265]]
comp_arcc_qwen8b_base = [0.205, 0.313, 0.350, 0.370, 0.402]

comp_obqa_qwen8b = [
    [0.163, 0.168, 0.155, 0.162, 0.148, 0.155, 0.145, 0.128, 0.125, 0.110, 0.080, 0.112, 0.105, 0.110, 0.150, 0.133],
    [0.232, 0.228, 0.222, 0.222, 0.218, 0.228, 0.200, 0.190, 0.180, 0.170, 0.120, 0.140, 0.150, 0.160, 0.180, 0.150],
    [0.265, 0.265, 0.250, 0.248, 0.250, 0.248, 0.248, 0.228, 0.240, 0.218, 0.160, 0.180, 0.188, 0.200, 0.225, 0.180],
    [0.298, 0.290, 0.272, 0.268, 0.275, 0.275, 0.268, 0.245, 0.265, 0.245, 0.170, 0.192, 0.195, 0.205, 0.235, 0.235],
    [0.325, 0.322, 0.295, 0.295, 0.295, 0.292, 0.270, 0.252, 0.278, 0.255, 0.178, 0.205, 0.200, 0.215, 0.245, 0.208]]
comp_obqa_qwen8b_base = [0.157, 0.227, 0.270, 0.304, 0.325]

comp_boolq_qwen8b = [
    [0.695, 0.650, 0.630, 0.612, 0.640, 0.630, 0.615, 0.590, 0.570, 0.560, 0.330, 0.370, 0.350, 0.390, 0.370, 0.420],
    [0.710, 0.685, 0.665, 0.658, 0.690, 0.680, 0.670, 0.660, 0.612, 0.580, 0.410, 0.475, 0.430, 0.432, 0.450, 0.470],
    [0.715, 0.690, 0.668, 0.660, 0.695, 0.685, 0.675, 0.665, 0.620, 0.590, 0.445, 0.520, 0.475, 0.480, 0.478, 0.490],
    [0.720, 0.695, 0.670, 0.662, 0.698, 0.688, 0.678, 0.668, 0.625, 0.595, 0.470, 0.550, 0.490, 0.488, 0.485, 0.492],
    [0.725, 0.700, 0.675, 0.665, 0.700, 0.690, 0.680, 0.670, 0.630, 0.600, 0.490, 0.575, 0.500, 0.495, 0.490, 0.495]]
comp_boolq_qwen8b_base = [0.668, 0.725, 0.735, 0.745, 0.755]

# Grids of panels (rows = models, cols = datasets), built from the arrays above
SUFF_GRID = [
    [(suff_arce_mistral, suff_arce_mistral_base), (suff_arcc_mistral, suff_arcc_mistral_base),
     (suff_obqa_mistral, suff_obqa_mistral_base), (suff_boolq_mistral, suff_boolq_mistral_base)],
    [(suff_arce_llama2, suff_arce_llama2_base), (suff_arcc_llama2, suff_arcc_llama2_base),
     (suff_obqa_llama2, suff_obqa_llama2_base), (suff_boolq_llama2, suff_boolq_llama2_base)],
    [(suff_arce_llama3, suff_arce_llama3_base), (suff_arcc_llama3, suff_arcc_llama3_base),
     (suff_obqa_llama3, suff_obqa_llama3_base), (suff_boolq_llama3, suff_boolq_llama3_base)],
    [(suff_arce_qwen4b, suff_arce_qwen4b_base), (suff_arcc_qwen4b, suff_arcc_qwen4b_base),
     (suff_obqa_qwen4b, suff_obqa_qwen4b_base), (suff_boolq_qwen4b, suff_boolq_qwen4b_base)],
    [(suff_arce_qwen8b, suff_arce_qwen8b_base), (suff_arcc_qwen8b, suff_arcc_qwen8b_base),
     (suff_obqa_qwen8b, suff_obqa_qwen8b_base), (suff_boolq_qwen8b, suff_boolq_qwen8b_base)],
]
COMP_GRID = [
    [(comp_arce_mistral, comp_arce_mistral_base), (comp_arcc_mistral, comp_arcc_mistral_base),
     (comp_obqa_mistral, comp_obqa_mistral_base), (comp_boolq_mistral, comp_boolq_mistral_base)],
    [(comp_arce_llama2, comp_arce_llama2_base), (comp_arcc_llama2, comp_arcc_llama2_base),
     (comp_obqa_llama2, comp_obqa_llama2_base), (comp_boolq_llama2, comp_boolq_llama2_base)],
    [(comp_arce_llama3, comp_arce_llama3_base), (comp_arcc_llama3, comp_arcc_llama3_base),
     (comp_obqa_llama3, comp_obqa_llama3_base), (comp_boolq_llama3, comp_boolq_llama3_base)],
    [(comp_arce_qwen4b, comp_arce_qwen4b_base), (comp_arcc_qwen4b, comp_arcc_qwen4b_base),
     (comp_obqa_qwen4b, comp_obqa_qwen4b_base), (comp_boolq_qwen4b, comp_boolq_qwen4b_base)],
    [(comp_arce_qwen8b, comp_arce_qwen8b_base), (comp_arcc_qwen8b, comp_arcc_qwen8b_base),
     (comp_obqa_qwen8b, comp_obqa_qwen8b_base), (comp_boolq_qwen8b, comp_boolq_qwen8b_base)],
]

# Tick steps (style)
SUFF_DTICK = [[0.05, 0.05, 0.05, 0.05], [0.05, 0.05, 0.025, 0.05], [0.05, 0.05, 0.05, 0.1],
              [0.05, 0.05, 0.05, 0.1], [0.05, 0.05, 0.05, 0.1]]
COMP_DTICK = [[0.05, 0.1, 0.1, 0.1], [0.05, 0.05, 0.05, 0.1], [0.05, 0.05, 0.1, 0.1],
              [0.1, 0.1, 0.05, 0.1], [0.05, 0.05, 0.05, 0.1]]

# ---------------- Layout geometry (pixels) ----------------
W, H = 844, 1611
FONT = "DejaVu Sans"
COL_LEFT = [47, 260, 473, 683]
COL_W = 155
AX_H = 108.5
SUFF_TOP = [20 + 154.8 * i for i in range(5)]
COMP_TOP = [827 + 155 * i for i in range(5)]


def px_x(x):
    return x / W


def px_y(y):
    return 1 - y / H


fig = go.Figure()
annotations = []
axis_idx = 0


def add_panel(series, base, dtick, colors, top, left, title, ylabel):
    global axis_idx
    axis_idx += 1
    k = axis_idx
    suf = "" if k == 1 else str(k)
    xref, yref = "x" + suf, "y" + suf
    vals = [v for s in series for v in s] + list(base)
    lo, hi = min(vals), max(vals)
    pad = (hi - lo) * 0.05
    fmt = ".3f" if dtick < 0.05 else (".2f" if dtick < 0.1 else ".1f")
    fig.layout["xaxis" + suf] = dict(
        domain=[px_x(left), px_x(left + COL_W)], anchor=yref, range=[LAYERS[0], LAYERS[-1]],
        tickmode="array", tickvals=[2, 4, 6, 8, 10, 12, 14, 16],
        showgrid=False, zeroline=False, showline=True, mirror=True, linecolor="black", linewidth=1,
        ticks="outside", ticklen=2.5, tickwidth=0.8, tickcolor="black",
        tickfont=dict(size=8, color="black", family=FONT))
    fig.layout["yaxis" + suf] = dict(
        domain=[px_y(top + AX_H), px_y(top)], anchor=xref, range=[lo - pad, hi + pad],
        tick0=0, dtick=dtick, tickformat=fmt,
        showgrid=False, zeroline=False, showline=True, mirror=True, linecolor="black", linewidth=1,
        ticks="outside", ticklen=2.5, tickwidth=0.8, tickcolor="black",
        tickfont=dict(size=8, color="black", family=FONT))
    for i, s in enumerate(series):
        fig.add_trace(go.Scatter(x=LAYERS, y=s, mode="lines", xaxis=xref, yaxis=yref,
                                 line=dict(color=colors[i], width=1.2), showlegend=False,
                                 hoverinfo="x+y", name=PCT_LABELS[i]))
    for i, b in enumerate(base):
        fig.add_trace(go.Scatter(x=[LAYERS[0], LAYERS[-1]], y=[b, b], mode="lines", xaxis=xref, yaxis=yref,
                                 line=dict(color=colors[i], width=1.2, dash="4px,2px"), showlegend=False,
                                 hoverinfo="y", name=PCT_LABELS[i] + " baseline"))
    annotations.append(dict(text=title, x=px_x(left + COL_W / 2), y=px_y(top - 7.5), xref="paper",
                            yref="paper", xanchor="center", yanchor="middle", showarrow=False,
                            font=dict(size=11.3, color="black", family=FONT)))
    annotations.append(dict(text="# removed attention layers", x=px_x(left + COL_W / 2),
                            y=px_y(top + AX_H + 20), xref="paper", yref="paper", xanchor="center",
                            yanchor="middle", showarrow=False, font=dict(size=9.7, color="black", family=FONT)))
    annotations.append(dict(text=ylabel, x=px_x(left - 31), y=px_y(top + AX_H / 2), xref="paper",
                            yref="paper", xanchor="center", yanchor="middle", textangle=-90, showarrow=False,
                            font=dict(size=9.7, color="black", family=FONT)))


for r, model in enumerate(MODELS):
    for c, ds in enumerate(DATASETS):
        series, base = SUFF_GRID[r][c]
        add_panel(series, base, SUFF_DTICK[r][c], SUFF_COLORS, SUFF_TOP[r], COL_LEFT[c],
                  f"{ds}, {model}", "Sufficiency")
for r, model in enumerate(MODELS):
    for c, ds in enumerate(DATASETS):
        series, base = COMP_GRID[r][c]
        add_panel(series, base, COMP_DTICK[r][c], COMP_COLORS, COMP_TOP[r], COL_LEFT[c],
                  f"{ds}, {model}", "Comprehensiveness")

# Legend swatch entries
for i, p in enumerate(PCT_LABELS):
    fig.add_trace(go.Scatter(x=[None], y=[None], mode="lines", line=dict(color=SUFF_COLORS[i], width=10),
                             name=p, legend="legend", showlegend=True, hoverinfo="skip"))
for i, p in enumerate(PCT_LABELS):
    fig.add_trace(go.Scatter(x=[None], y=[None], mode="lines", line=dict(color=COMP_COLORS[i], width=10),
                             name=p, legend="legend2", showlegend=True, hoverinfo="skip"))

LEG1_Y, LEG2_Y = 792, 1602
annotations.append(dict(text="% tokens, sufficiency:", x=px_x(151), y=px_y(LEG1_Y), xref="paper", yref="paper",
                        xanchor="left", yanchor="middle", showarrow=False,
                        font=dict(size=11.3, color="black", family=FONT)))
annotations.append(dict(text="% tokens, comprehensiveness:", x=px_x(148), y=px_y(LEG2_Y), xref="paper",
                        yref="paper", xanchor="left", yanchor="middle", showarrow=False,
                        font=dict(size=11.3, color="black", family=FONT)))

legend_style = dict(orientation="h", xanchor="left", yanchor="middle", bgcolor="rgba(0,0,0,0)",
                    borderwidth=0, entrywidth=39, entrywidthmode="pixels", itemwidth=30,
                    font=dict(size=11.3, color="black", family=FONT), itemclick=False, itemdoubleclick=False)

fig.update_layout(
    width=W, height=H, autosize=False,
    margin=dict(l=0, r=0, t=0, b=0),
    paper_bgcolor="white", plot_bgcolor="white",
    font=dict(family=FONT, color="black"),
    showlegend=True,
    legend=dict(legend_style, x=px_x(350), y=px_y(LEG1_Y)),
    legend2=dict(legend_style, x=px_x(350), y=px_y(LEG2_Y)),
    annotations=annotations,
    shapes=[
        dict(type="rect", xref="paper", yref="paper", x0=px_x(111), x1=px_x(743), y0=px_y(803), y1=px_y(781),
             line=dict(color="#d0d0d0", width=1), fillcolor="rgba(0,0,0,0)", layer="below"),
        dict(type="rect", xref="paper", yref="paper", x0=px_x(111), x1=px_x(743), y0=px_y(1614),
             y1=px_y(1591), line=dict(color="#d0d0d0", width=1), fillcolor="rgba(0,0,0,0)", layer="below"),
    ],
)

fig.write_html(
    "out.html",
    config={"displayModeBar": False},
    post_script="document.body.style.margin='0px';document.body.style.padding='0px';"
                "document.documentElement.style.overflow='hidden';",
)
